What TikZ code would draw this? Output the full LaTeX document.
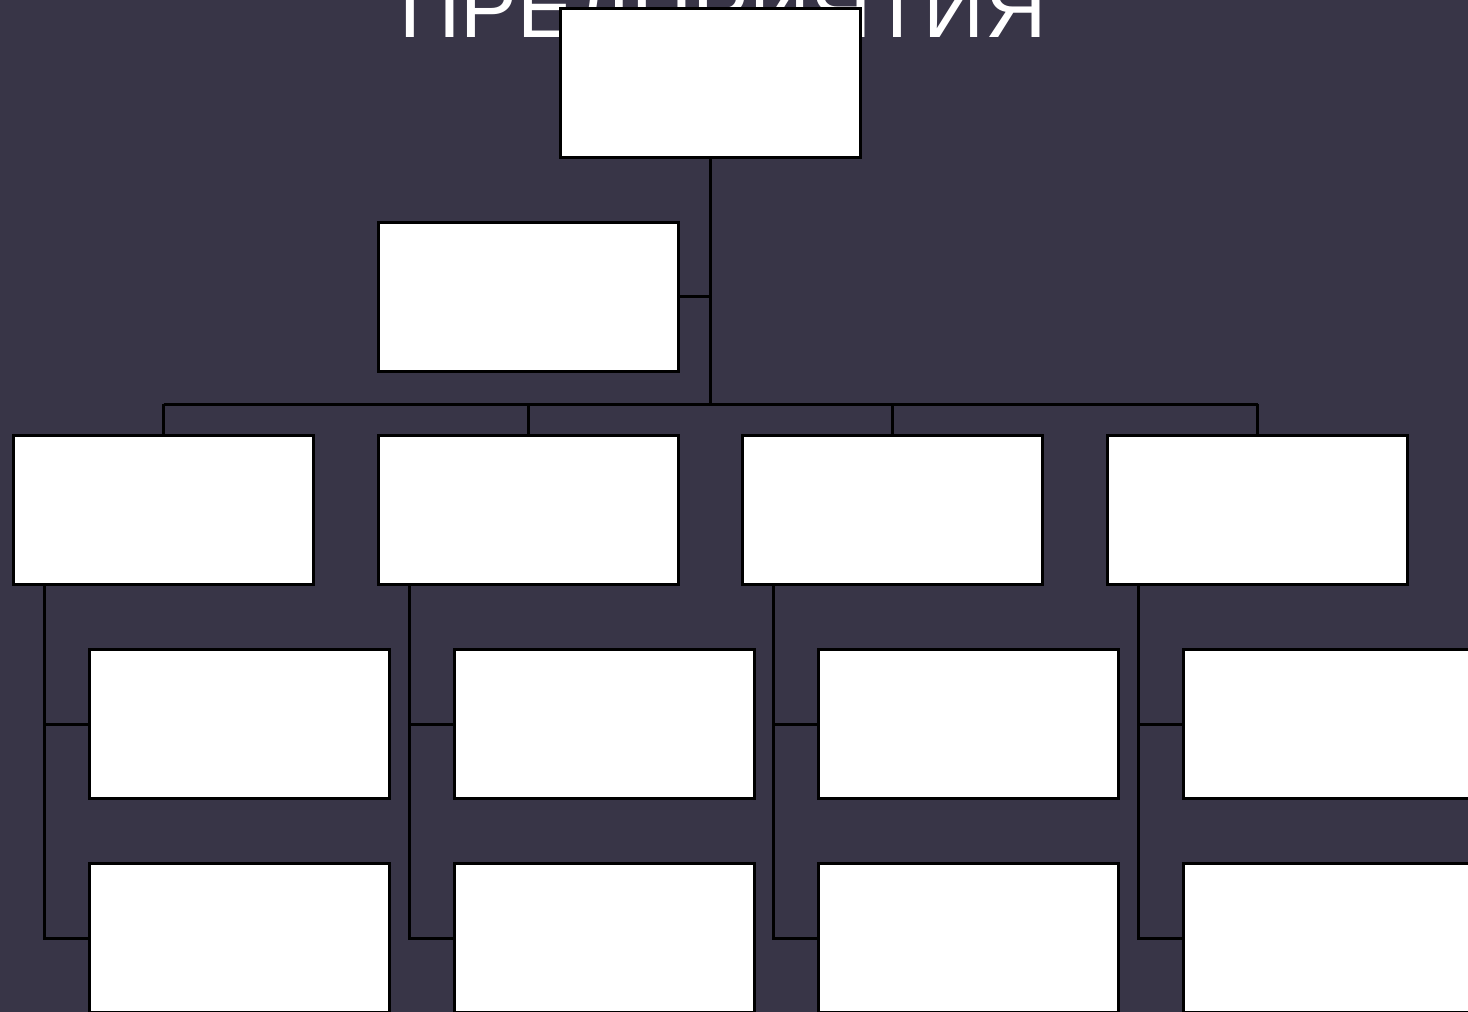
\documentclass[tikz,border=0pt]{standalone}
\usepackage{fontspec}
\setmainfont{Liberation Sans}
\usetikzlibrary{positioning}
\definecolor{slate}{HTML}{383547}
\tikzset{
  unit/.style={draw=black, fill=white, line width=1.5pt, minimum width=150pt, minimum height=74.5pt, inner sep=0pt},
  link/.style={draw=black, line width=1.5pt},
}
\begin{document}
\begin{tikzpicture}[x=0.5pt,y=-0.5pt]
  \useasboundingbox (0,0) rectangle (1468,1012);
  \clip (0,0) rectangle (1468,1012);
  \fill[slate] (0,0) rectangle (1468,1012);
  % title sits behind the head box
  \node[font=\fontsize{42.5}{42.5}\selectfont,white,anchor=base,inner sep=0pt] (title) at (723,37) {ПРЕДПРИЯТИЯ};
  \node[unit] (head) at (710.5,83) {};
  \node[unit] (aide) at (528.5,296.5) {};
  \coordinate (bus) at (710.5,404);
  \draw[link] (head.south) -- (bus);
  \draw[link] (aide.east) -- (aide.east -| head.south);
  % four departments, two units under each
  \foreach \bx [count=\bi] in {163.5,528.5,892.5,1257.5} {
    \node[unit] (dept\bi) at (\bx,510) {};
    \node[unit] (upper\bi) at (\bx+75.5,724) {};
    \node[unit] (lower\bi) at (\bx+75.5,938) {};
    \coordinate (spine\bi) at (\bx-119.5,585);
    \draw[link] (dept\bi.north |- bus) -- (dept\bi.north);
    \draw[link] (spine\bi) |- (lower\bi.west);
    \draw[link] (spine\bi |- upper\bi.west) -- (upper\bi.west);
  }
  \draw[link] (dept1.north |- bus) -- (dept4.north |- bus);
\end{tikzpicture}
\end{document}
